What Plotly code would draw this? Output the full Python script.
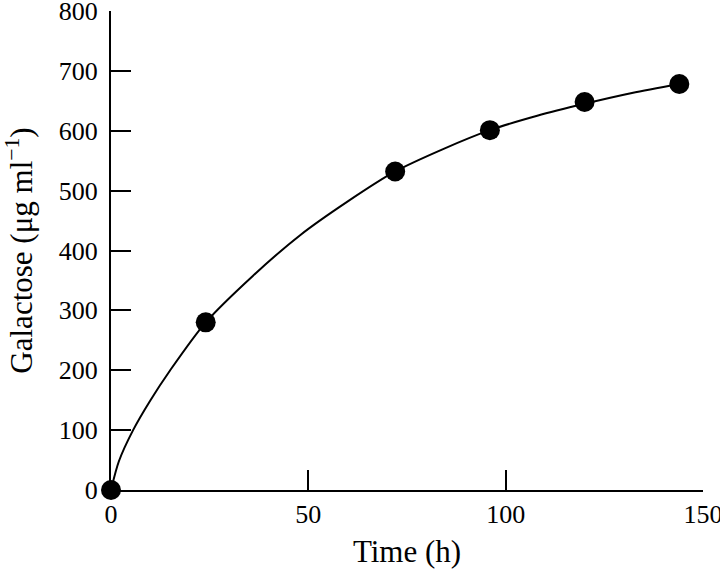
# Galactose release over time - measured points plus the smooth fitted curve
import plotly.graph_objects as go

# measured points
time_h = [0, 24, 72, 96, 120, 144]
galactose = [0, 280, 532, 601, 648, 678]

# fitted curve, values
curve_time = [0, 2, 5.6, 10, 15, 24, 36, 48, 60, 72, 84, 96, 108, 120, 132, 144]
curve_galactose = [0, 48, 100, 150, 200, 280, 358, 426, 482, 532, 569, 601, 625, 645, 663, 678]

x_ticks = [0, 50, 100, 150]
y_ticks = [0, 100, 200, 300, 400, 500, 600, 700, 800]

serif = "Liberation Serif, Times New Roman, serif"

fig = go.Figure()

# the curve
fig.add_trace(go.Scatter(
    x=curve_time,
    y=curve_galactose,
    mode="lines",
    line=dict(color="black", width=2, shape="spline", smoothing=0.8),
    cliponaxis=False,
    hoverinfo="skip",
))

# the dots
fig.add_trace(go.Scatter(
    x=time_h,
    y=galactose,
    mode="markers",
    marker=dict(color="black", size=20),
    cliponaxis=False,
))

fig.update_layout(
    width=720,
    height=576,
    margin=dict(l=111, r=17, t=11, b=86),
    plot_bgcolor="white",
    paper_bgcolor="white",
    showlegend=False,
    font=dict(family=serif, size=26, color="black"),
)

fig.update_xaxes(
    range=[0, 150],
    tickvals=x_ticks,
    ticks="inside",
    ticklen=20,
    tickwidth=2,
    tickcolor="black",
    ticklabeloverflow="allow",
    showline=True,
    linecolor="black",
    linewidth=2,
    showgrid=False,
    zeroline=False,
    automargin=False,
    title=dict(text="Time (h)", standoff=12),
)

fig.update_yaxes(
    range=[0, 800],
    tickvals=y_ticks,
    ticks="inside",
    ticklen=20,
    tickwidth=2,
    tickcolor="black",
    ticklabeloverflow="allow",
    ticklabelstandoff=6,
    showline=True,
    linecolor="black",
    linewidth=2,
    showgrid=False,
    zeroline=False,
    automargin=False,
    title=dict(text="Galactose (μg ml<sup>−1</sup>)", standoff=18),
)

# drop the default page margin so the figure sits at the window's corner
fig.write_html(
    "out.html",
    config={"displayModeBar": False},
    post_script="document.body.style.margin='0';",
)
